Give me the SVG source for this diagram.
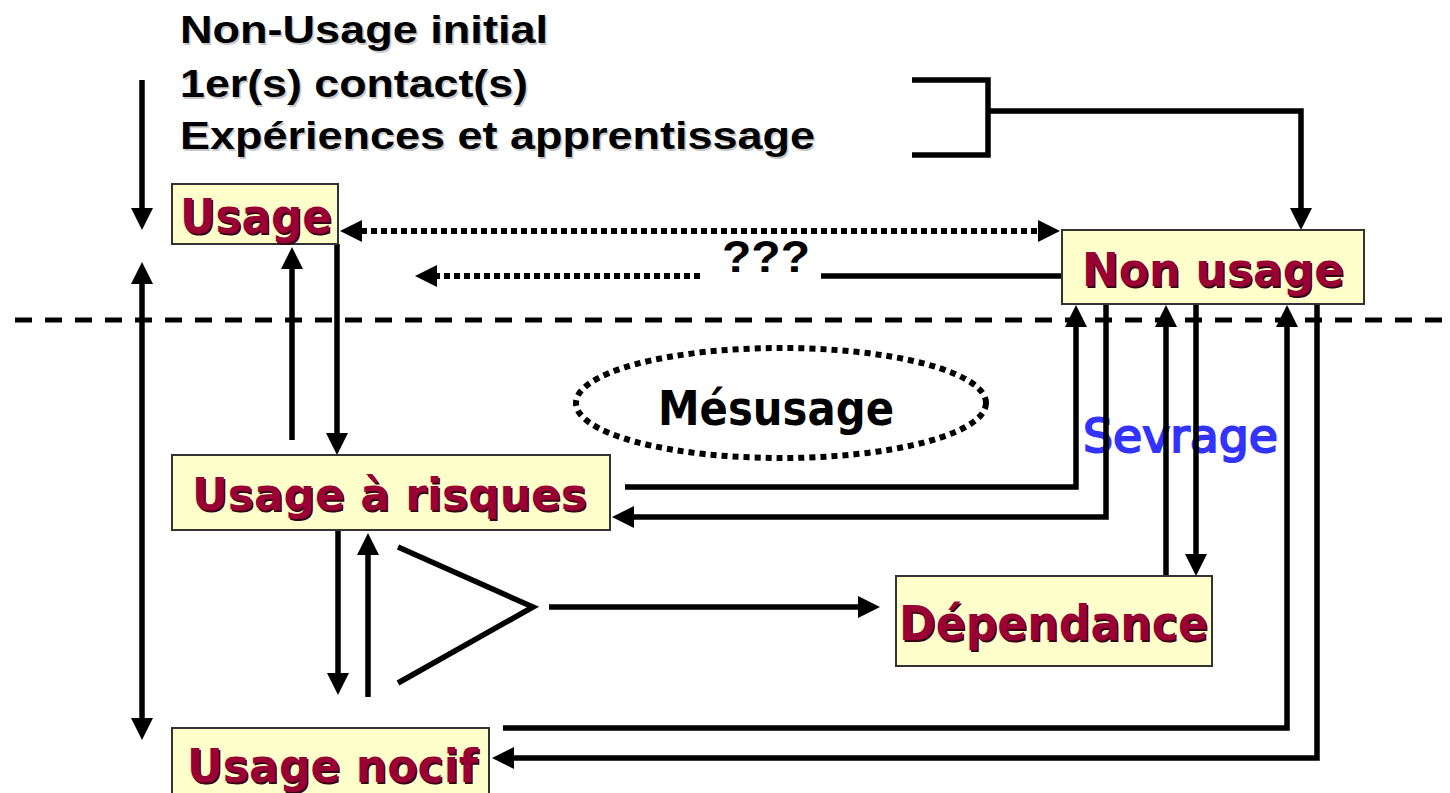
<svg xmlns="http://www.w3.org/2000/svg" width="1450" height="793" viewBox="0 0 1450 793">
  <style>
    .box { fill: #ffffcc; stroke: #333333; stroke-width: 2; }
    .lbl { font-family: "DejaVu Sans", Verdana, sans-serif; font-weight: bold; fill: #990033; }
    .lbl-sh { font-family: "DejaVu Sans", Verdana, sans-serif; font-weight: bold; fill: #3a0014; }
    .head { font-family: "Liberation Sans", Arial, sans-serif; font-weight: bold; fill: #000000; }
    .head-sh { font-family: "Liberation Sans", Arial, sans-serif; font-weight: bold; fill: #c8c8c8; }
    .ln { fill: none; stroke: #000000; stroke-width: 5.5; stroke-linejoin: miter; }
    .dot { fill: none; stroke: #000000; stroke-width: 6; stroke-dasharray: 6 4; }
    .dash { fill: none; stroke: #000000; stroke-width: 5; stroke-dasharray: 17 13; }
  </style>
  <defs>
    <marker id="ah" markerUnits="userSpaceOnUse" markerWidth="22" markerHeight="22" refX="11" refY="11" orient="auto-start-reverse" viewBox="0 0 22 22">
      <path d="M0,0 L22,11 L0,22 z" fill="#000000"/>
    </marker>
  </defs>

  <rect width="1450" height="793" fill="#ffffff"/>

  <!-- heading lines -->
  <g id="heading">
    <text class="head-sh" x="181.5" y="44.5" font-size="39" textLength="368" lengthAdjust="spacingAndGlyphs">Non-Usage initial</text>
    <text class="head" x="180" y="43" font-size="39" textLength="368" lengthAdjust="spacingAndGlyphs">Non-Usage initial</text>
    <text class="head-sh" x="181.5" y="98.5" font-size="39" textLength="348" lengthAdjust="spacingAndGlyphs">1er(s) contact(s)</text>
    <text class="head" x="180" y="97" font-size="39" textLength="348" lengthAdjust="spacingAndGlyphs">1er(s) contact(s)</text>
    <text class="head-sh" x="181.5" y="150.5" font-size="39" textLength="635" lengthAdjust="spacingAndGlyphs">Expériences et apprentissage</text>
    <text class="head" x="180" y="149" font-size="39" textLength="635" lengthAdjust="spacingAndGlyphs">Expériences et apprentissage</text>
  </g>

  <!-- boundary line between use and misuse -->
  <path class="dash" d="M15,320 H1450"/>

  <!-- Mésusage zone -->
  <g id="mesusage">
    <ellipse cx="781" cy="403" rx="205" ry="55" fill="none" stroke="#000000" stroke-width="6" stroke-dasharray="6 5"/>
    <text x="658" y="425" font-family="'DejaVu Sans', Verdana, sans-serif" font-weight="bold" font-size="48" fill="#000000" textLength="236" lengthAdjust="spacingAndGlyphs">Mésusage</text>
  </g>

  <!-- Sevrage label -->
  <g id="sevrage">
    <text x="1083" y="452" font-family="'DejaVu Sans', Verdana, sans-serif" font-size="46" fill="#3333ff" stroke="#3333ff" stroke-width="2" textLength="195" lengthAdjust="spacingAndGlyphs">Sevrage</text>
  </g>

  <!-- connectors -->
  <g id="connectors">
    <path class="ln" d="M142,80 V219" marker-end="url(#ah)"/>
    <path class="ln" d="M142,273 V729" marker-start="url(#ah)" marker-end="url(#ah)"/>
    <path class="ln" d="M912,80 H988 V155 H912"/>
    <path class="ln" d="M988,111 H1301 V219" marker-end="url(#ah)"/>
    <path class="dot" d="M351,231 H1049" marker-start="url(#ah)" marker-end="url(#ah)"/>
    <path class="ln" d="M821,276 H1062"/>
    <path class="dot" d="M700,276 H426" marker-end="url(#ah)"/>
    <path class="ln" d="M292,440 V258" marker-end="url(#ah)"/>
    <path class="ln" d="M337,244 V444" marker-end="url(#ah)"/>
    <path class="ln" d="M625,487 H1076 V316" marker-end="url(#ah)"/>
    <path class="ln" d="M1106,305 V517 H623" marker-end="url(#ah)"/>
    <path class="ln" d="M1166,576 V316" marker-end="url(#ah)"/>
    <path class="ln" d="M1196,305 V565" marker-end="url(#ah)"/>
    <path class="ln" d="M503,728 H1287 V316" marker-end="url(#ah)"/>
    <path class="ln" d="M1317,305 V758 H503" marker-end="url(#ah)"/>
    <path class="ln" d="M338,530 V684" marker-end="url(#ah)"/>
    <path class="ln" d="M368,697 V544" marker-end="url(#ah)"/>
    <path class="ln" d="M398,547 L533,607 L398,683"/>
    <path class="ln" d="M549,607 H869" marker-end="url(#ah)"/>
  </g>

  <!-- nodes -->
  <g id="usage">
    <rect class="box" x="172" y="184" width="166" height="60"/>
    <text class="lbl-sh" x="181.5" y="234.5" font-size="48" textLength="152" lengthAdjust="spacingAndGlyphs">Usage</text>
    <text class="lbl" x="180" y="233" font-size="48" textLength="152" lengthAdjust="spacingAndGlyphs">Usage</text>
  </g>

  <g id="non-usage">
    <rect class="box" x="1062" y="230" width="302" height="74"/>
    <text class="lbl-sh" x="1083.5" y="287.5" font-size="46" textLength="262" lengthAdjust="spacingAndGlyphs">Non usage</text>
    <text class="lbl" x="1082" y="286" font-size="46" textLength="262" lengthAdjust="spacingAndGlyphs">Non usage</text>
  </g>

  <g id="usage-a-risques">
    <rect class="box" x="172" y="455" width="438" height="75"/>
    <text class="lbl-sh" x="193.5" y="511.5" font-size="44" textLength="395" lengthAdjust="spacingAndGlyphs">Usage à risques</text>
    <text class="lbl" x="192" y="510" font-size="44" textLength="395" lengthAdjust="spacingAndGlyphs">Usage à risques</text>
  </g>

  <g id="dependance">
    <rect class="box" x="896" y="576" width="316" height="90"/>
    <text class="lbl-sh" x="900.5" y="641.5" font-size="48" textLength="309" lengthAdjust="spacingAndGlyphs">Dépendance</text>
    <text class="lbl" x="899" y="640" font-size="48" textLength="309" lengthAdjust="spacingAndGlyphs">Dépendance</text>
  </g>

  <g id="usage-nocif">
    <rect class="box" x="172" y="728" width="317" height="80"/>
    <text class="lbl-sh" x="188.5" y="783.5" font-size="46" textLength="291" lengthAdjust="spacingAndGlyphs">Usage nocif</text>
    <text class="lbl" x="187" y="782" font-size="46" textLength="291" lengthAdjust="spacingAndGlyphs">Usage nocif</text>
  </g>

  <!-- question marks on the return path -->
  <g id="unknown">
    <text x="722" y="272" font-family="'Liberation Sans', Arial, sans-serif" font-weight="bold" font-size="44" fill="#000000" textLength="88" lengthAdjust="spacingAndGlyphs">???</text>
  </g>
</svg>
